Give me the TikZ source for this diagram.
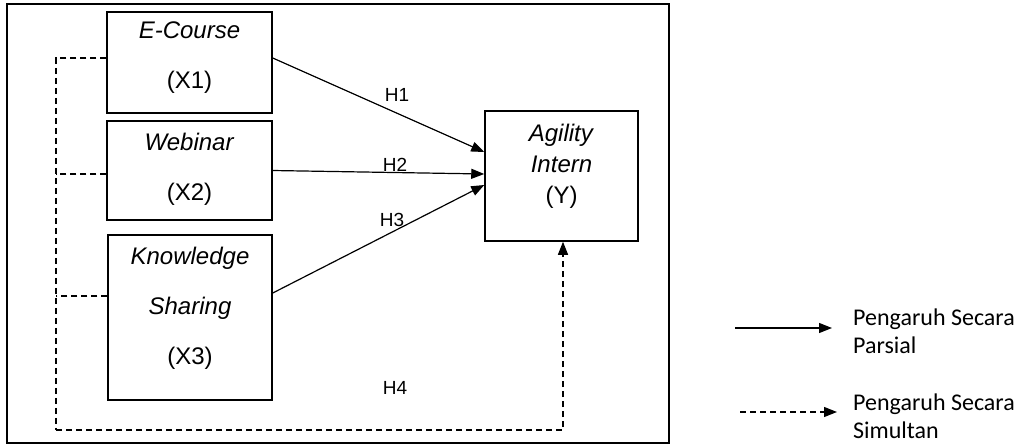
\documentclass[tikz,border=0pt]{standalone}
\usepackage{fontspec}
\setmainfont{Liberation Sans}
\newfontfamily\legendfont{Carlito}
\usetikzlibrary{arrows.meta}

\tikzset{
  varbox/.style={draw, line width=1.5pt, rectangle, inner sep=0pt},
  vartext/.style={font=\fontsize{24}{50}\selectfont, align=center, inner sep=0pt},
  hyplabel/.style={font=\fontsize{19}{22}\selectfont, inner sep=0pt},
  legtext/.style={font=\legendfont\fontsize{24}{28}\selectfont, align=left, inner sep=0pt, anchor=west},
  solidarrow/.style={line width=1.2pt, -{Triangle[length=13pt,width=10pt]}},
  simline/.style={line width=1.3pt, dash pattern=on 6pt off 4pt},
  simarrow/.style={simline, -{Triangle[length=13pt,width=10pt]}}
}

\begin{document}
\begin{tikzpicture}[x=1pt,y=-1pt]
\useasboundingbox (0,0) rectangle (1025,445);

% outer frame
\draw[line width=1.5pt] (7,4) rectangle (669,443);

% variable boxes
\node[varbox, minimum width=165pt, minimum height=101pt] (x1) at (189.5,62.5) {};
\node[varbox, minimum width=165pt, minimum height=99pt]  (x2) at (189.5,170.5) {};
\node[varbox, minimum width=164pt, minimum height=165pt] (x3) at (190,317.5) {};
\node[varbox, minimum width=153pt, minimum height=130pt] (y)  at (561.5,176) {};

% box captions
\node[vartext] at (189.5,58) {\textit{E-Course}\\(X1)};
\node[vartext] at (189.5,169) {\textit{Webinar}\\(X2)};
\node[vartext] at (190,308) {\textit{Knowledge}\\\textit{Sharing}\\(X3)};
\node[vartext, font=\fontsize{24}{31}\selectfont] at (561.5,166) {\textit{Agility}\\\textit{Intern}\\(Y)};

% partial effects
\draw[solidarrow] ([yshift=4.5pt]x1.east) -- ([yshift=24pt]y.west);
\draw[solidarrow] (x2.east) -- ([yshift=2pt]y.west);
\draw[solidarrow] ([yshift=24.5pt]x3.east) -- ([yshift=-9pt]y.west);

\node[hyplabel] (h1) at (397,95) {H1};
\node[hyplabel] (h2) at (395,165) {H2};
\node[hyplabel] (h3) at (392,220) {H3};
\node[hyplabel] (h4) at (395,388) {H4};

% simultaneous effect
\coordinate (tt) at (56,58);
\coordinate (tb) at (56,430);
\draw[simline] ([yshift=4.5pt]x1.west) -- (tt) -- (tb);
\draw[simline] ([yshift=-3.5pt]x2.west) -- ([yshift=-3.5pt]x2.west -| tt);
\draw[simline] ([yshift=21.5pt]x3.west) -- ([yshift=21.5pt]x3.west -| tt);
\draw[simarrow] (tb) -| ([xshift=1.5pt]y.south);

% legend
\coordinate (la1) at (735,328);
\coordinate (lb1) at (832,328);
\coordinate (la2) at (740,412);
\coordinate (lb2) at (837,412);
\draw[solidarrow] (la1) -- (lb1);
\draw[simarrow] (la2) -- (lb2);
\node[legtext] (lt1) at (853,331) {Pengaruh Secara\\Parsial};
\node[legtext] (lt2) at (853,416) {Pengaruh Secara\\Simultan};
\end{tikzpicture}
\end{document}
